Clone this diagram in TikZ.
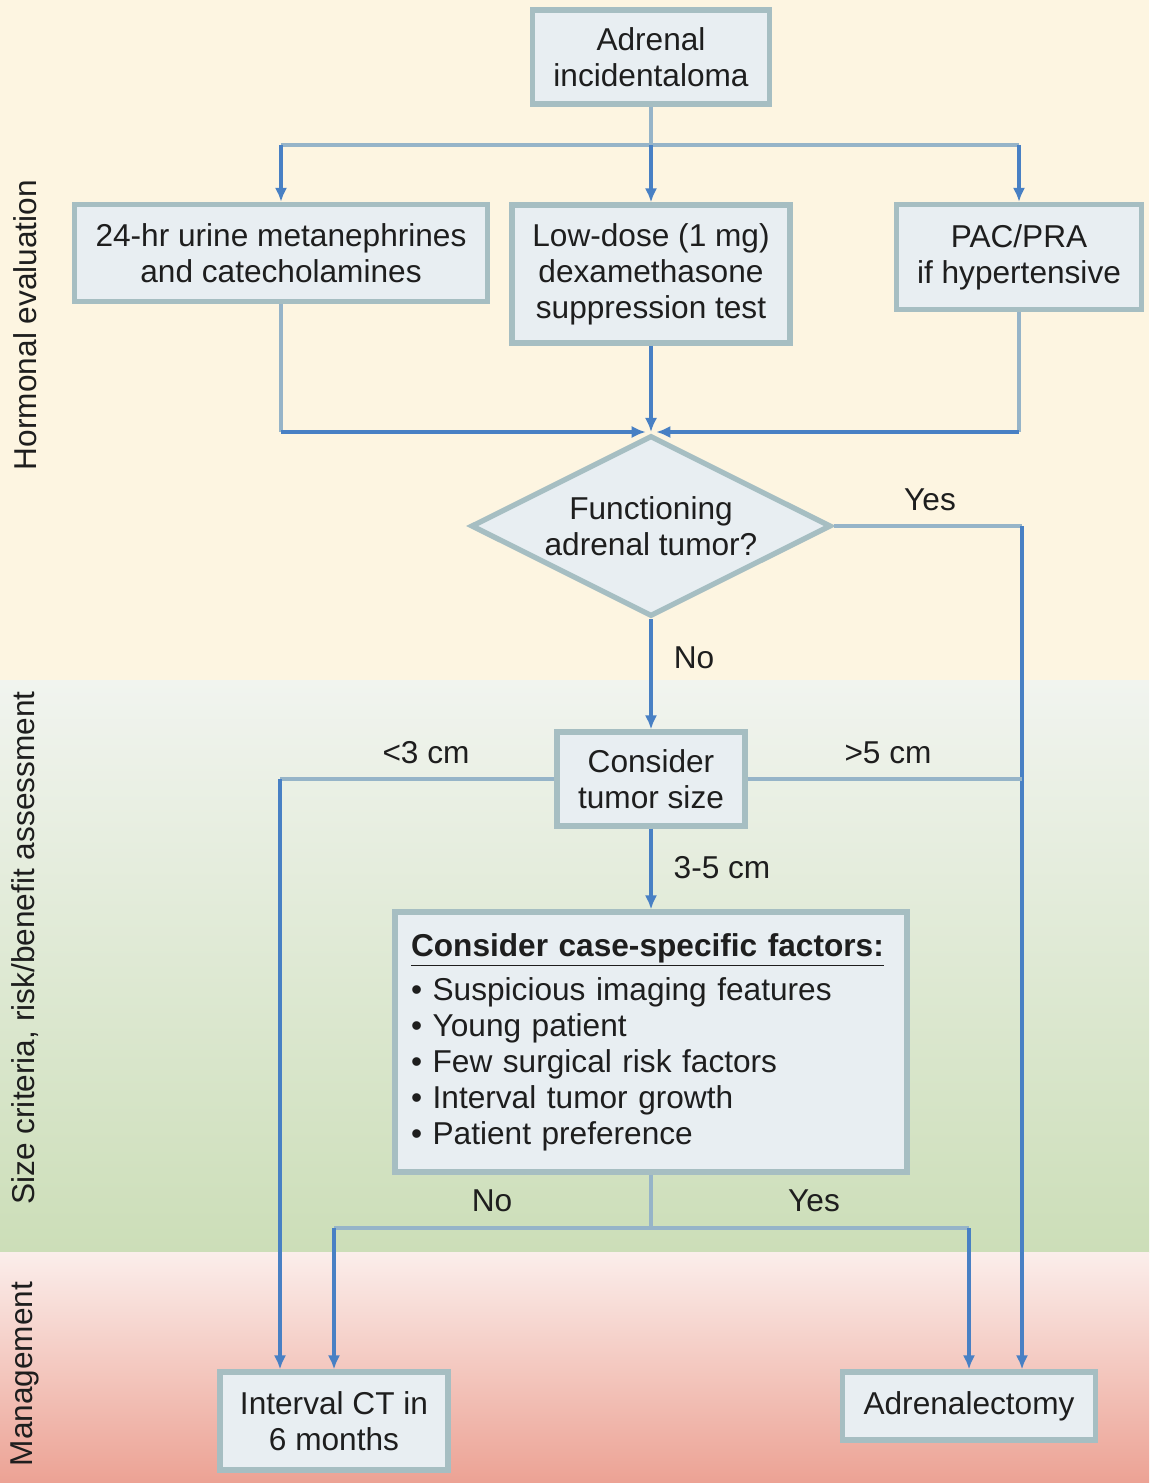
\documentclass[tikz,border=0pt]{standalone}
\usepackage{fontspec}
\setmainfont{Liberation Sans}
\usepackage{tikz}
\usetikzlibrary{shapes.geometric, arrows.meta, positioning, calc}

\definecolor{cream}{RGB}{253,245,225}
\definecolor{mintlight}{RGB}{241,244,239}
\definecolor{sage}{RGB}{204,222,184}
\definecolor{blushlight}{RGB}{251,238,235}
\definecolor{salmon}{RGB}{236,162,148}
\definecolor{boxfill}{RGB}{232,238,242}
\definecolor{boxedge}{RGB}{166,190,194}
\definecolor{linkgrey}{RGB}{150,180,200}
\definecolor{linkblue}{RGB}{72,128,196}
\definecolor{inkdark}{RGB}{30,30,30}

\begin{document}
\begin{tikzpicture}[x=0.02cm, y=-0.02cm,
		font=\fontsize{18}{20.4}\selectfont, text=inkdark,
		box/.style={draw=boxedge, line width=3pt, fill=boxfill, align=center, inner sep=4pt},
		decision/.style={diamond, shape aspect=2, draw=boxedge, line width=3pt, fill=boxfill, align=center, inner sep=0pt},
		link/.style={draw=linkgrey, line width=2.2pt},
		arr/.style={draw=linkblue, line width=2.2pt, -{Latex[length=8pt, width=7pt]}},
		band/.style={rotate=90}]
	
	% Background bands
	\useasboundingbox (0,0) rectangle (1149,1483);
	\fill[cream] (0,0) rectangle (1149,680);
	\shade[top color=mintlight, bottom color=sage] (0,680) rectangle (1149,1252);
	\shade[top color=blushlight, bottom color=salmon] (0,1252) rectangle (1149,1483);
	
	% Band titles
	\node[band] (hormlbl) at (25,325) {Hormonal evaluation};
	\node[band] (sizelbl) at (25,948) {Size criteria, risk/benefit assessment};
	\node[band] (mgmtlbl) at (25,1374) {Management};
	
	% Boxes
	\node[box, minimum width=4.74cm, minimum height=1.88cm] (adren) at (651,57) {Adrenal\\incidentaloma};
	\node[box, minimum width=8.26cm, minimum height=1.94cm] (urine) at (281,253) {24-hr urine metanephrines\\and catecholamines};
	\node[box, minimum width=5.56cm, minimum height=2.76cm] (dex) at (651,274) {Low-dose (1 mg)\\dexamethasone\\suppression test};
	\node[box, minimum width=4.9cm, minimum height=2.1cm] (pac) at (1019,257) {PAC/PRA\\if hypertensive};
	\node[decision, minimum width=7.2cm, minimum height=3.62cm] (func) at (651,526) {Functioning\\adrenal tumor?};
	\node[box, minimum width=3.76cm, minimum height=1.88cm] (size) at (651,779) {Consider\\tumor size};
	\node[box, minimum width=10.24cm, minimum height=5.2cm, text width=9.6cm, align=left] (case) at (651,1042)
		{\underline{\textbf{Consider case-specific factors:}}\\[5pt]
		 \textbullet\ Suspicious imaging features\\
		 \textbullet\ Young patient\\
		 \textbullet\ Few surgical risk factors\\
		 \textbullet\ Interval tumor growth\\
		 \textbullet\ Patient preference};
	\node[box, minimum width=4.56cm, minimum height=1.96cm] (ct) at (334,1421) {Interval CT in\\6 months};
	\node[box, minimum width=5.06cm, minimum height=1.36cm] (adx) at (969,1406) {Adrenalectomy};
	
	% Branch points
	\coordinate (split) at (651,145);
	\coordinate (meet) at (651,432);
	\coordinate (yesx) at (1022,526);
	\coordinate (smallx) at (280,779);
	\coordinate (fork) at (651,1228);
	
	% Hormonal tests
	\draw[link] (adren) -- (split);
	\draw[link] (urine.north |- split) -- (pac.north |- split);
	\draw[arr] (urine.north |- split) -- (urine.north);
	\draw[arr] (split) -- (dex.north);
	\draw[arr] (pac.north |- split) -- (pac.north);
	
	% Merge into the decision
	\draw[link] (urine.south) -- (urine.south |- meet);
	\draw[arr, shorten >=3pt] (urine.south |- meet) -- (meet);
	\draw[link] (pac.south) -- (pac.south |- meet);
	\draw[arr, shorten >=3pt] (pac.south |- meet) -- (meet);
	\draw[arr] (dex.south) -- (meet);
	
	% Yes / No
	\draw[link] (func.east) -- (yesx);
	\draw[arr] (yesx) -- (yesx |- adx.north);
	\node (yeslbl) at (930,500) {Yes};
	\draw[arr] (func.south) -- (size.north);
	\node (nolbl) at (694,658) {No};
	
	% Tumor size
	\draw[link] (size.west) -- (smallx);
	\draw[arr] (smallx) -- (smallx |- ct.north);
	\node (smalllbl) at (426,753) {<3 cm};
	\draw[link] (size.east) -- (yesx |- size.east);
	\node (largelbl) at (888,753) {>5 cm};
	\draw[arr] (size.south) -- (case.north);
	\node (midlbl) at (722,868) {3-5 cm};
	
	% Case-specific outcome
	\draw[link] (case.south) -- (fork);
	\draw[link] (ct.north |- fork) -- (adx.north |- fork);
	\draw[arr] (ct.north |- fork) -- (ct.north);
	\draw[arr] (adx.north |- fork) -- (adx.north);
	\node (caseno) at (492,1201) {No};
	\node (caseyes) at (814,1201) {Yes};
	
\end{tikzpicture}
\end{document}
